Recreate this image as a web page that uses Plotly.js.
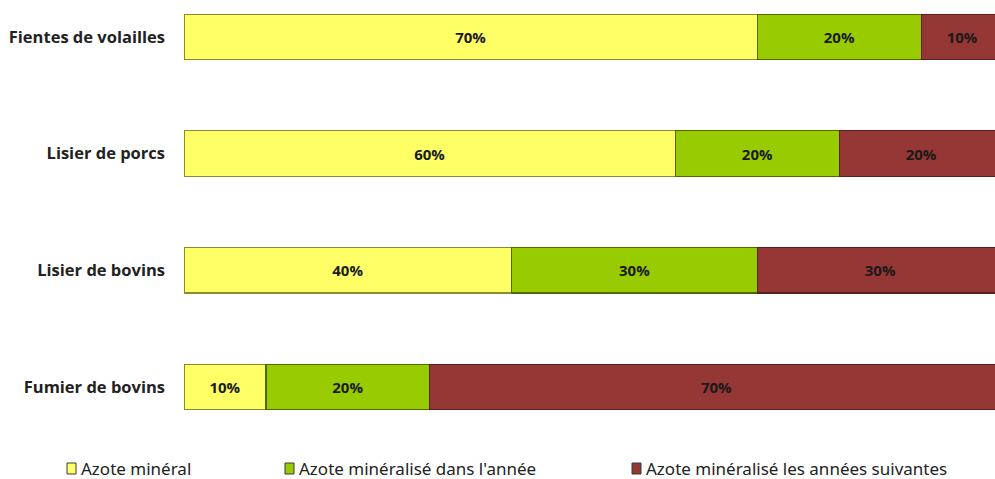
<!DOCTYPE html>
<html>
<head>
<meta charset="utf-8">
<script src="https://cdn.plot.ly/plotly-3.0.1.min.js"></script>
<style>
  html, body { margin: 0; padding: 0; background: #ffffff; }
  #chart { width: 995px; height: 479px; }
</style>
</head>
<body>
<div id="chart"></div>
<script>
// Types of organic fertiliser, listed bottom to top
const categories = ['Fumier de bovins', 'Lisier de bovins', 'Lisier de porcs', 'Fientes de volailles'];

// Share of nitrogen (%) per fraction
const seriesNames = ['Azote minéral', 'Azote minéralisé dans l\'année', 'Azote minéralisé les années suivantes'];
const azoteMineral = [10, 40, 60, 70];
const azoteAnnee = [20, 30, 20, 20];
const azoteSuivantes = [70, 30, 20, 10];

const colors = ['#FFFF66', '#99CC00', '#953735'];
const outline = ['#8a8a30', '#4f6a00', '#5a1f1f'];

const values = [azoteMineral, azoteAnnee, azoteSuivantes];

const traces = values.map((vals, i) => ({
  type: 'bar',
  orientation: 'h',
  name: seriesNames[i],
  y: categories,
  x: vals,
  width: 0.39,
  marker: { color: colors[i], line: { color: outline[i], width: 1.2 } },
  text: vals.map(v => v + '%'),
  textposition: 'inside',
  insidetextanchor: 'middle',
  textangle: 0,
  textfont: { family: 'Open Sans, sans-serif', size: 15, color: '#1a1a1a', weight: 'bold' },
  hoverinfo: 'skip',
  showlegend: false
}));

// Legend: small outlined squares followed by the series names
const legendX = [67, 285, 632];
const shapes = [];
const annotations = [];
seriesNames.forEach((name, i) => {
  shapes.push({
    type: 'rect', xref: 'paper', yref: 'paper',
    xsizemode: 'pixel', ysizemode: 'pixel',
    xanchor: 0, yanchor: 0,
    x0: legendX[i] - 184, x1: legendX[i] - 184 + 9,
    y0: -44, y1: -33,
    fillcolor: colors[i], line: { color: '#3a3a3a', width: 1 }
  });
  annotations.push({
    xref: 'paper', yref: 'paper', x: 0, y: 0,
    xshift: legendX[i] - 184 + 12, yshift: -38,
    xanchor: 'left', yanchor: 'middle',
    text: name, showarrow: false,
    font: { family: 'Noto Sans, sans-serif', size: 17, color: '#222222' }
  });
});

const layout = {
  width: 995,
  height: 479,
  margin: { l: 184, r: 0, t: 0, b: 49 },
  paper_bgcolor: '#ffffff',
  plot_bgcolor: '#ffffff',
  barmode: 'stack',
  showlegend: false,
  xaxis: {
    range: [0, 99],
    showgrid: false, zeroline: false, showline: false,
    showticklabels: false, ticks: ''
  },
  yaxis: {
    type: 'category',
    categoryorder: 'array',
    categoryarray: categories,
    range: [-0.369, 3.317],
    showgrid: false, zeroline: false, showline: false,
    ticks: '',
    ticklabelstandoff: 18,
    tickfont: { family: 'Open Sans, sans-serif', size: 16.5, color: '#222222', weight: 'bold' }
  },
  shapes: shapes,
  annotations: annotations
};

Plotly.newPlot('chart', traces, layout, { displayModeBar: false, staticPlot: true });
</script>
</body>
</html>
